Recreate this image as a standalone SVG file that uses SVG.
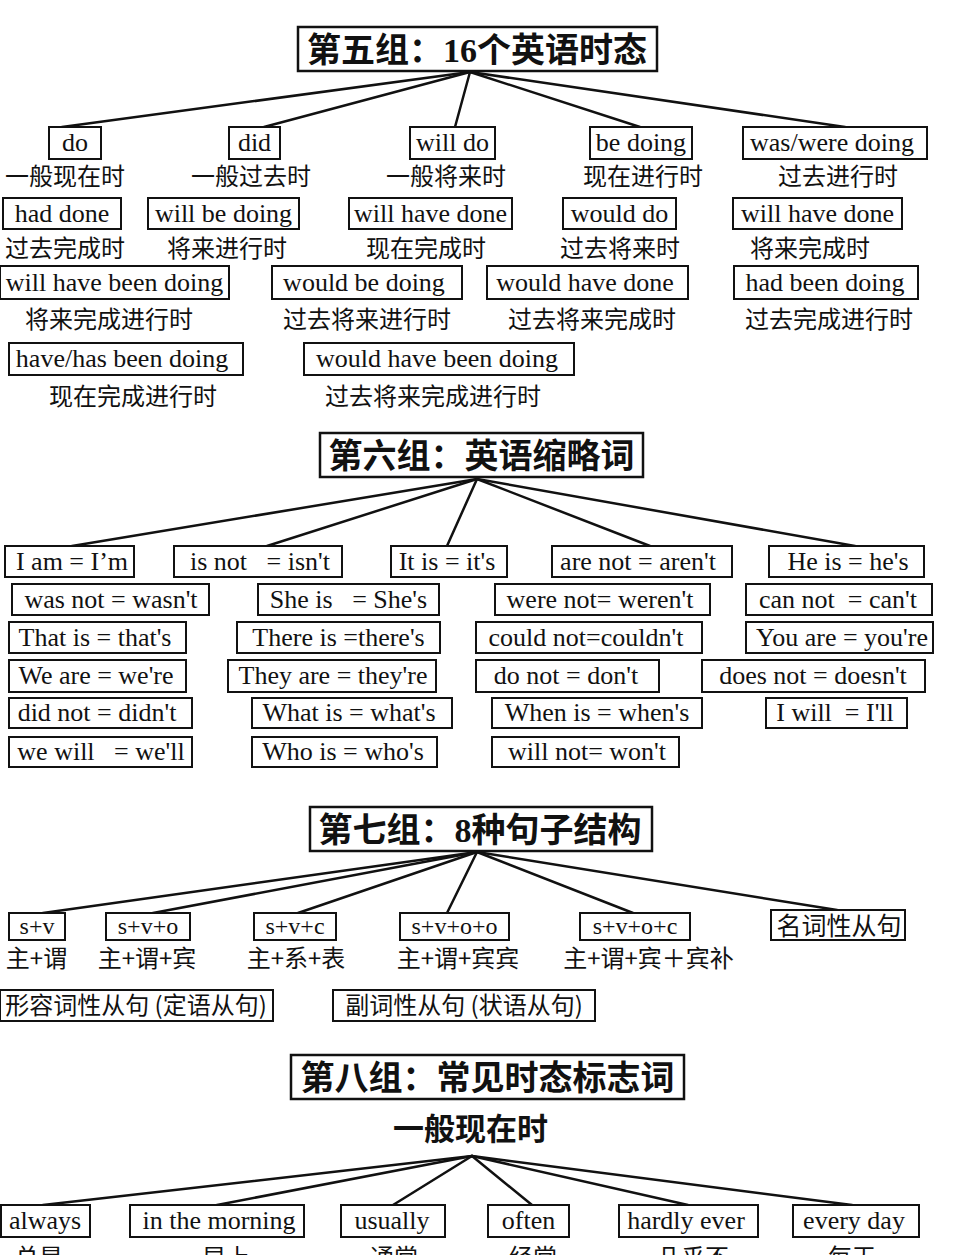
<svg xmlns="http://www.w3.org/2000/svg" width="960" height="1255" viewBox="0 0 960 1255">
<style>
.bg{fill:#fff}
.box{fill:#fff;stroke:#111;stroke-width:2}
.tbox{fill:#fff;stroke:#111;stroke-width:2.5}
.en{font-family:"Liberation Serif",serif;font-size:26px;fill:#111;text-anchor:middle}
.sm{font-size:24px}
.cn{font-family:"Noto Sans CJK SC",sans-serif;font-size:24px;fill:#111;text-anchor:middle}
.title{font-family:"Liberation Serif","Noto Sans CJK SC",sans-serif;font-weight:bold;font-size:34px;fill:#111;text-anchor:middle}
.sub{font-family:"Noto Sans CJK SC",sans-serif;font-weight:bold;font-size:31px;fill:#111;text-anchor:middle}
.conn line{stroke:#111;stroke-width:2.5;stroke-linecap:round}
</style>
<rect class="bg" x="0" y="0" width="960" height="1255"/>

<g id="connectors" class="conn">
  <line x1="470" y1="72" x2="62" y2="127"/>
  <line x1="470" y1="72" x2="264" y2="127"/>
  <line x1="470" y1="72" x2="455" y2="127"/>
  <line x1="470" y1="72" x2="640" y2="127"/>
  <line x1="470" y1="72" x2="845" y2="127"/>

  <line x1="477" y1="479" x2="72" y2="546"/>
  <line x1="477" y1="479" x2="267" y2="546"/>
  <line x1="477" y1="479" x2="447" y2="546"/>
  <line x1="477" y1="479" x2="650" y2="546"/>
  <line x1="477" y1="479" x2="855" y2="546"/>

  <line x1="477" y1="852" x2="43" y2="913"/>
  <line x1="477" y1="852" x2="153" y2="913"/>
  <line x1="477" y1="852" x2="298" y2="913"/>
  <line x1="477" y1="852" x2="447" y2="913"/>
  <line x1="477" y1="852" x2="633" y2="913"/>
  <line x1="477" y1="852" x2="837" y2="910"/>

  <line x1="472" y1="1156" x2="43" y2="1205"/>
  <line x1="472" y1="1156" x2="217" y2="1205"/>
  <line x1="472" y1="1156" x2="393" y2="1205"/>
  <line x1="472" y1="1156" x2="532" y2="1205"/>
  <line x1="472" y1="1156" x2="688" y2="1205"/>
  <line x1="472" y1="1156" x2="852" y2="1205"/>
</g>

<!-- Section 5 -->
<g id="title5"><rect class="tbox" x="298" y="27" width="359" height="44"/><text class="title" x="477" y="62">第五组：16个英语时态</text></g>
<g id="n5-do"><rect class="box" x="49" y="127" width="52" height="32"/><text class="en" x="75" y="151">do</text><text class="cn" x="65" y="185">一般现在时</text></g>
<g id="n5-did"><rect class="box" x="229" y="127" width="51" height="32"/><text class="en" x="254.5" y="151">did</text><text class="cn" x="251" y="185">一般过去时</text></g>
<g id="n5-willdo"><rect class="box" x="410" y="127" width="85" height="32"/><text class="en" x="452.5" y="151">will do</text><text class="cn" x="446" y="185">一般将来时</text></g>
<g id="n5-bedoing"><rect class="box" x="590" y="127" width="102" height="32"/><text class="en" x="641" y="151">be doing</text><text class="cn" x="643" y="185">现在进行时</text></g>
<g id="n5-wasdoing"><rect class="box" x="743" y="127" width="184" height="32"/><text class="en" x="832" y="151">was/were doing</text><text class="cn" x="838" y="185">过去进行时</text></g>

<g id="n5-haddone"><rect class="box" x="3" y="198" width="118" height="31"/><text class="en" x="62" y="222">had done</text><text class="cn" x="65" y="257">过去完成时</text></g>
<g id="n5-willbedoing"><rect class="box" x="148" y="198" width="151" height="31"/><text class="en" x="223.5" y="222">will be doing</text><text class="cn" x="227" y="257">将来进行时</text></g>
<g id="n5-willhavedone"><rect class="box" x="349" y="198" width="163" height="31"/><text class="en" x="430.5" y="222">will have done</text><text class="cn" x="426" y="257">现在完成时</text></g>
<g id="n5-woulddo"><rect class="box" x="563" y="198" width="113" height="31"/><text class="en" x="619.5" y="222">would do</text><text class="cn" x="620" y="257">过去将来时</text></g>
<g id="n5-willhavedone2"><rect class="box" x="733" y="198" width="169" height="31"/><text class="en" x="817.5" y="222">will have done</text><text class="cn" x="810" y="257">将来完成时</text></g>

<g id="n5-willhavebeendoing"><rect class="box" x="0" y="266" width="229" height="33"/><text class="en" x="114.5" y="291">will have been doing</text><text class="cn" x="109" y="328">将来完成进行时</text></g>
<g id="n5-wouldbedoing"><rect class="box" x="272" y="266" width="190" height="33"/><text class="en" x="364" y="291">would be doing</text><text class="cn" x="367" y="328">过去将来进行时</text></g>
<g id="n5-wouldhavedone"><rect class="box" x="487" y="266" width="201" height="33"/><text class="en" x="585" y="291">would have done</text><text class="cn" x="592" y="328">过去将来完成时</text></g>
<g id="n5-hadbeendoing"><rect class="box" x="734" y="266" width="184" height="33"/><text class="en" x="825" y="291">had been doing</text><text class="cn" x="829" y="328">过去完成进行时</text></g>

<g id="n5-havebeendoing"><rect class="box" x="9" y="343" width="234" height="32"/><text class="en" x="122" y="367">have/has been doing</text><text class="cn" x="133" y="405">现在完成进行时</text></g>
<g id="n5-wouldhavebeendoing"><rect class="box" x="304" y="343" width="270" height="32"/><text class="en" x="437" y="367">would have been doing</text><text class="cn" x="433" y="405">过去将来完成进行时</text></g>

<!-- Section 6 -->
<g id="title6"><rect class="tbox" x="320" y="433" width="323" height="44"/><text class="title" x="481.5" y="468">第六组：英语缩略词</text></g>
<g id="n6-iam"><rect class="box" x="5" y="546" width="129" height="31"/><text class="en" x="72" y="570">I am = I’m</text></g>
<g id="n6-isnot"><rect class="box" x="174" y="546" width="168" height="31"/><text class="en" x="260" y="570" xml:space="preserve">is not   = isn't</text></g>
<g id="n6-itis"><rect class="box" x="391" y="546" width="116" height="31"/><text class="en" x="447" y="570">It is = it's</text></g>
<g id="n6-arenot"><rect class="box" x="552" y="546" width="180" height="31"/><text class="en" x="638" y="570">are not = aren't</text></g>
<g id="n6-heis"><rect class="box" x="769" y="546" width="155" height="31"/><text class="en" x="848" y="570">He is = he's</text></g>

<g id="n6-wasnot"><rect class="box" x="12" y="584" width="197" height="31"/><text class="en" x="111" y="608">was not = wasn't</text></g>
<g id="n6-sheis"><rect class="box" x="258" y="584" width="181" height="31"/><text class="en" x="348.5" y="608" xml:space="preserve">She is   = She's</text></g>
<g id="n6-werenot"><rect class="box" x="495" y="584" width="215" height="31"/><text class="en" x="600" y="608">were not= weren't</text></g>
<g id="n6-cannot"><rect class="box" x="746" y="584" width="186" height="31"/><text class="en" x="838" y="608" xml:space="preserve">can not  = can't</text></g>

<g id="n6-thatis"><rect class="box" x="9" y="622" width="177" height="31"/><text class="en" x="95" y="646">That is = that's</text></g>
<g id="n6-thereis"><rect class="box" x="237" y="622" width="203" height="31"/><text class="en" x="338.5" y="646">There is =there's</text></g>
<g id="n6-couldnot"><rect class="box" x="476" y="622" width="226" height="31"/><text class="en" x="586" y="646">could not=couldn't</text></g>
<g id="n6-youare"><rect class="box" x="746" y="622" width="187" height="31"/><text class="en" x="842" y="646">You are = you're</text></g>

<g id="n6-weare"><rect class="box" x="9" y="660" width="177" height="32"/><text class="en" x="96" y="684">We are = we're</text></g>
<g id="n6-theyare"><rect class="box" x="228" y="660" width="208" height="32"/><text class="en" x="333" y="684">They are = they're</text></g>
<g id="n6-donot"><rect class="box" x="476" y="660" width="183" height="32"/><text class="en" x="566" y="684">do not = don't</text></g>
<g id="n6-doesnot"><rect class="box" x="702" y="660" width="223" height="32"/><text class="en" x="813" y="684">does not = doesn't</text></g>

<g id="n6-didnot"><rect class="box" x="9" y="698" width="183" height="30"/><text class="en" x="97" y="721">did not = didn't</text></g>
<g id="n6-whatis"><rect class="box" x="252" y="698" width="200" height="30"/><text class="en" x="349" y="721">What is = what's</text></g>
<g id="n6-whenis"><rect class="box" x="492" y="698" width="210" height="30"/><text class="en" x="597" y="721">When is = when's</text></g>
<g id="n6-iwill"><rect class="box" x="766" y="698" width="141" height="30"/><text class="en" x="835" y="721" xml:space="preserve">I will  = I'll</text></g>

<g id="n6-wewill"><rect class="box" x="9" y="737" width="183" height="30"/><text class="en" x="101" y="760" xml:space="preserve">we will   = we'll</text></g>
<g id="n6-whois"><rect class="box" x="252" y="737" width="185" height="30"/><text class="en" x="343" y="760">Who is = who's</text></g>
<g id="n6-willnot"><rect class="box" x="492" y="737" width="187" height="30"/><text class="en" x="587" y="760">will not= won't</text></g>

<!-- Section 7 -->
<g id="title7"><rect class="tbox" x="310" y="807" width="342" height="44"/><text class="title" x="480" y="842">第七组：8种句子结构</text></g>
<g id="n7-sv"><rect class="box" x="9" y="913" width="56" height="27"/><text class="en sm" x="37" y="934">s+v</text><text class="cn" x="36.5" y="967">主+谓</text></g>
<g id="n7-svo"><rect class="box" x="106" y="913" width="84" height="27"/><text class="en sm" x="148" y="934">s+v+o</text><text class="cn" x="147" y="967">主+谓+宾</text></g>
<g id="n7-svc"><rect class="box" x="254" y="913" width="82" height="27"/><text class="en sm" x="295" y="934">s+v+c</text><text class="cn" x="296" y="967">主+系+表</text></g>
<g id="n7-svoo"><rect class="box" x="400" y="913" width="109" height="27"/><text class="en sm" x="454.5" y="934">s+v+o+o</text><text class="cn" x="458" y="967">主+谓+宾宾</text></g>
<g id="n7-svoc"><rect class="box" x="580" y="913" width="110" height="27"/><text class="en sm" x="635" y="934">s+v+o+c</text><text class="cn" x="648.5" y="967">主+谓+宾＋宾补</text></g>
<g id="n7-noun"><rect class="box" x="771" y="910" width="134" height="30"/><text class="cn" x="839" y="935" style="font-size:25px">名词性从句</text></g>
<g id="n7-adj"><rect class="box" x="0" y="990" width="273" height="31"/><text class="cn" x="136" y="1014">形容词性从句 (定语从句)</text></g>
<g id="n7-adv"><rect class="box" x="333" y="990" width="262" height="31"/><text class="cn" x="464" y="1014">副词性从句 (状语从句)</text></g>

<!-- Section 8 -->
<g id="title8"><rect class="tbox" x="291" y="1055" width="393" height="44"/><text class="title" x="487.5" y="1090">第八组：常见时态标志词</text></g>
<g id="n8-present"><text class="sub" x="470.5" y="1140">一般现在时</text></g>
<g id="n8-always"><rect class="box" x="1" y="1205" width="89" height="32"/><text class="en" x="45" y="1229">always</text><text class="cn" x="39" y="1266">总是</text></g>
<g id="n8-morning"><rect class="box" x="130" y="1205" width="174" height="32"/><text class="en" x="219" y="1229">in the morning</text><text class="cn" x="226" y="1266">早上</text></g>
<g id="n8-usually"><rect class="box" x="341" y="1205" width="104" height="32"/><text class="en" x="392" y="1229">usually</text><text class="cn" x="394" y="1266">通常</text></g>
<g id="n8-often"><rect class="box" x="488" y="1205" width="81" height="32"/><text class="en" x="528.5" y="1229">often</text><text class="cn" x="533" y="1266">经常</text></g>
<g id="n8-hardly"><rect class="box" x="619" y="1205" width="139" height="32"/><text class="en" x="686" y="1229">hardly ever</text><text class="cn" x="693" y="1266">几乎不</text></g>
<g id="n8-everyday"><rect class="box" x="793" y="1205" width="126" height="32"/><text class="en" x="854" y="1229">every day</text><text class="cn" x="852" y="1266">每天</text></g>
</svg>
